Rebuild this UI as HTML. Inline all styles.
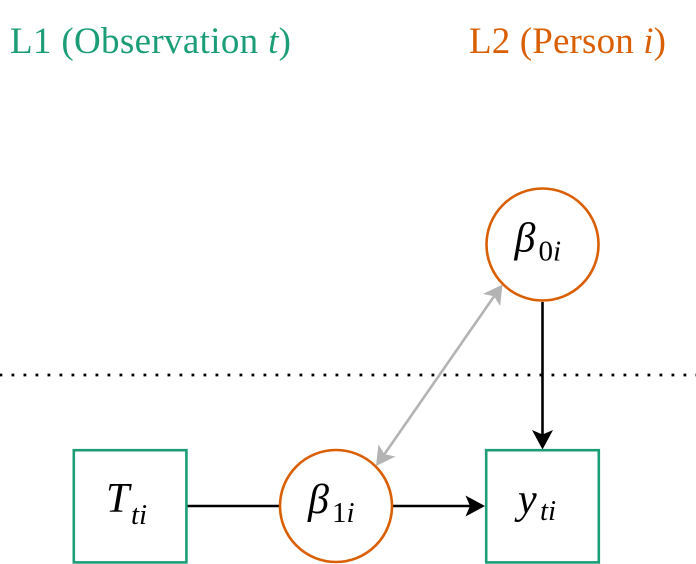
<!DOCTYPE html>
<html>
<head>
<meta charset="utf-8">
<style>
  html, body { margin: 0; padding: 0; background: #ffffff; }
  svg { display: block; }
  svg text { font-family: "Liberation Serif", "Times New Roman", "DejaVu Serif", serif; }
</style>
</head>
<body>
<svg width="696" height="564" viewBox="0 0 696 564" xmlns="http://www.w3.org/2000/svg">
  <rect x="0" y="0" width="696" height="564" fill="#ffffff"/>

  <!-- Titles -->
  <text x="10" y="53" font-family="Liberation Serif, serif" font-size="37" fill="#1b9e77" textLength="281" lengthAdjust="spacing">L1 (Observation <tspan font-style="italic">t</tspan>)</text>
  <text x="469" y="53" font-family="Liberation Serif, serif" font-size="37" fill="#d95f02" textLength="197" lengthAdjust="spacing">L2 (Person <tspan font-style="italic">i</tspan>)</text>

  <!-- Dotted separator -->
  <line x1="-0.5" y1="375" x2="696" y2="375" stroke="#000" stroke-width="2.8" stroke-dasharray="2.8 9.2"/>

  <!-- Gray double-headed arrow -->
  <line x1="384.4" y1="454.2" x2="494.1" y2="296.3" stroke="#b3b3b3" stroke-width="2.6"/>
  <polygon points="502.5,284.5 483.0,294.0 494.1,296.3 500.1,306.1" fill="#b3b3b3"/>
  <polygon points="376,466 395.5,456.5 384.4,454.2 378.4,444.4" fill="#b3b3b3"/>

  <!-- Vertical black arrow beta0 -> y -->
  <line x1="542.5" y1="302" x2="542.5" y2="435" stroke="#000" stroke-width="2.6"/>
  <polygon points="542.5,449.5 532,430 542.5,434.5 553,430" fill="#000"/>

  <!-- T -> beta1 line -->
  <line x1="187" y1="506" x2="279" y2="506" stroke="#000" stroke-width="2.6"/>

  <!-- beta1 -> y arrow -->
  <line x1="393" y1="506" x2="471" y2="506" stroke="#000" stroke-width="2.6"/>
  <polygon points="485,506 465.5,495.5 470,506 465.5,516.5" fill="#000"/>

  <!-- Boxes -->
  <rect x="73.8" y="450.2" width="112.6" height="112.2" fill="none" stroke="#1b9e77" stroke-width="2.6"/>
  <rect x="486.2" y="450.2" width="112.6" height="112.2" fill="none" stroke="#1b9e77" stroke-width="2.6"/>

  <!-- Circles -->
  <circle cx="542.5" cy="244.5" r="56" fill="#ffffff" stroke="#d95f02" stroke-width="2.6"/>
  <circle cx="336" cy="506" r="56" fill="#ffffff" stroke="#d95f02" stroke-width="2.6"/>

  <!-- Labels -->
  <!-- T_ti -->
  <text x="106" y="512" font-family="Liberation Serif, serif" font-size="42" font-style="italic" fill="#000">T</text>
  <text x="131" y="524" font-family="Liberation Serif, serif" font-size="29" font-style="italic" fill="#000">ti</text>

  <!-- y_ti -->
  <text x="518" y="513" font-family="Liberation Serif, serif" font-size="42" font-style="italic" fill="#000">y</text>
  <text x="540" y="520" font-family="Liberation Serif, serif" font-size="29" font-style="italic" fill="#000">ti</text>

  <!-- beta_1i -->
  <text x="308" y="513" font-family="Liberation Serif, serif" font-size="42" font-style="italic" fill="#000">β</text>
  <text x="332" y="522" font-family="Liberation Serif, serif" font-size="29" fill="#000">1<tspan font-style="italic">i</tspan></text>

  <!-- beta_0i -->
  <text x="514.5" y="251.5" font-family="Liberation Serif, serif" font-size="42" font-style="italic" fill="#000">β</text>
  <text x="538.5" y="260.5" font-family="Liberation Serif, serif" font-size="29" fill="#000">0<tspan font-style="italic">i</tspan></text>
</svg>
</body>
</html>
